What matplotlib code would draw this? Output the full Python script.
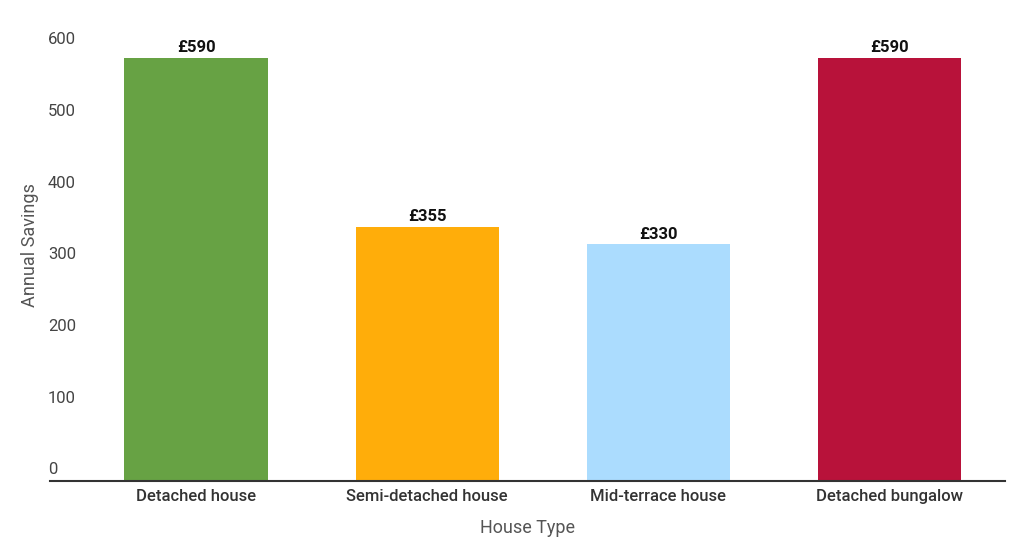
import matplotlib
matplotlib.use("Agg")
import matplotlib.pyplot as plt
from matplotlib import transforms

categories = ["Detached house", "Semi-detached house", "Mid-terrace house", "Detached bungalow"]
values = [590, 355, 330, 590]
labels = ["£590", "£355", "£330", "£590"]
colors = ["#67A244", "#FFAD0A", "#ABDCFE", "#B8123A"]
yticks = [0, 100, 200, 300, 400, 500, 600]

plt.rcParams['font.family'] = ['Roboto', 'DejaVu Sans']
fig = plt.figure(figsize=(10.24, 5.58), dpi=100)
ax = fig.add_axes([50/1024, 1-481/558, 955/1024, 481/558])
x = range(len(categories))
ax.bar(x, values, width=0.62, color=colors)
for i, (v, l) in enumerate(zip(values, labels)):
    ax.text(i, v + 4, l, ha='center', va='bottom', fontsize=12, fontweight='bold', color='#111111')
ax.set_xlim(-0.632, 3.5)
ax.set_ylim(0, 671)
ax.set_yticks([])
ax.set_xticks(list(x))
ax.set_xticklabels(categories, fontsize=12, color='#333333', fontweight='medium')
ax.tick_params(axis='x', length=0, pad=6)
for s in ['top', 'right', 'left']:
    ax.spines[s].set_visible(False)
ax.spines['bottom'].set_color('#333333')
ax.spines['bottom'].set_linewidth(1.5)
off = transforms.offset_copy(ax.get_yaxis_transform(), fig=fig, x=0, y=11, units='dots')
for t in yticks:
    ax.text(-0.002, t, str(t), transform=off, ha='left', va='center', fontsize=12, color='#444444')
fig.text(30/1024, 1-245/558, "Annual Savings", rotation=90, ha='center', va='center', fontsize=13, color='#555555')
fig.text(527/1024, 1-528/558, "House Type", ha='center', va='center', fontsize=13, color='#555555')
fig.savefig("out.png", dpi=100)
